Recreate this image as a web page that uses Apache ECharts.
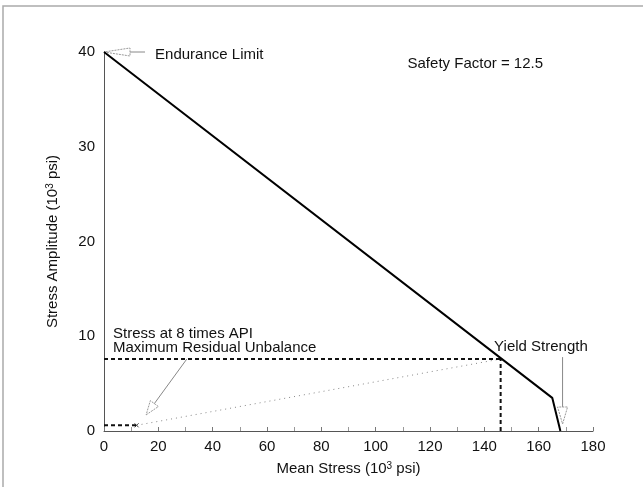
<!DOCTYPE html>
<html>
<head>
<meta charset="utf-8">
<script src="https://cdn.jsdelivr.net/npm/echarts@6/dist/echarts.min.js"></script>
<style>
  html, body { margin: 0; padding: 0; background: #fff; }
  #chart { width: 643px; height: 487px; }
</style>
</head>
<body>
<div id="chart"></div>
<script>
// Goodman diagram: allowable stress envelope (10^3 psi)
const envelope = [[0, 40], [165, 3.5], [168, 0]];
// Yield-strength operating point and its guide lines
const yieldPoint = [146, 7.6];
const yieldGuideH = [[0, 7.6], [146, 7.6]];
const yieldGuideV = [[146, 0], [146, 7.6]];
// Stress at 8x API maximum residual unbalance
const residualPoint = [12, 0.6];
const residualGuide = [[0, 0.6], [12, 0.6]];
const loadLine = [[12, 0.6], [146, 7.6]];

const xTicks = { min: 0, max: 180, interval: 20 };
const yTicks = { min: 0, max: 40, interval: 10 };

// Annotation texts, anchored in data units
const notes = [
  { text: 'Endurance Limit', at: [18.8, 39.7], align: 'left' },
  { text: 'Safety Factor = 12.5', at: [161.6, 38.8], align: 'right' },
  { text: 'Stress at 8 times API', at: [3.3, 10.3], align: 'left' },
  { text: 'Maximum Residual Unbalance', at: [3.3, 8.75], align: 'left' },
  { text: 'Yield Strength', at: [143.6, 8.9], align: 'left' }
];
// Pointer arrows: tip and tail in data units, head size in px
const arrows = [
  { tip: [0, 40], tail: [15.1, 40], head: 26, half: 4 },
  { tip: [15.5, 1.7], tail: [30.5, 7.6], head: 14, half: 5 },
  { tip: [168.8, 0.74], tail: [168.8, 7.8], head: 17, half: 5 }
];

const FONT = '"Liberation Sans", Arial, Helvetica, sans-serif';
const chart = echarts.init(document.getElementById('chart'));

chart.setOption({
  backgroundColor: '#fff',
  animation: false,
  grid: { left: 104, right: 50, top: 52, bottom: 56 },
  xAxis: {
    type: 'value', min: xTicks.min, max: xTicks.max, interval: xTicks.interval,
    name: 'Mean Stress (10{s|3} psi)', nameLocation: 'middle', nameGap: 30,
    nameTextStyle: { fontFamily: FONT, fontSize: 15, color: '#111',
      rich: { s: { fontFamily: FONT, fontSize: 10, color: '#111', verticalAlign: 'top', padding: [0, 0, 6, 0] } } },
    axisLine: { lineStyle: { color: '#555', width: 1 } },
    axisTick: { inside: true, length: 4, lineStyle: { color: '#777' } },
    minorTick: { show: true, splitNumber: 2, length: 4, lineStyle: { color: '#999' } },
    splitLine: { show: false },
    axisLabel: { fontFamily: FONT, fontSize: 15, color: '#111', margin: 8 }
  },
  yAxis: {
    type: 'value', min: yTicks.min, max: yTicks.max, interval: yTicks.interval,
    name: 'Stress Amplitude (10{s|3} psi)', nameLocation: 'middle', nameGap: 43,
    nameTextStyle: { fontFamily: FONT, fontSize: 15, color: '#111',
      rich: { s: { fontFamily: FONT, fontSize: 10, color: '#111', verticalAlign: 'top', padding: [0, 0, 6, 0] } } },
    axisLine: { show: true, lineStyle: { color: '#555', width: 1 } },
    axisTick: { show: false },
    splitLine: { show: false },
    axisLabel: { fontFamily: FONT, fontSize: 15, color: '#111', margin: 9 }
  },
  series: [
    { type: 'line', data: loadLine, symbol: 'none',
      lineStyle: { color: '#888', width: 1, type: [1, 4] } },
    { type: 'line', data: yieldGuideH, symbol: 'none',
      lineStyle: { color: '#111', width: 2, type: [4, 3] } },
    { type: 'line', data: yieldGuideV, symbol: 'none',
      lineStyle: { color: '#111', width: 2, type: [4, 3] } },
    { type: 'line', data: residualGuide, symbol: 'none',
      lineStyle: { color: '#111', width: 2, type: [4, 3] } },
    { type: 'line', data: envelope, symbol: 'none',
      lineStyle: { color: '#000', width: 2 } },
    { type: 'scatter', data: [residualPoint], symbol: 'emptyCircle', symbolSize: 8,
      itemStyle: { color: '#fff', borderColor: '#111', borderWidth: 1.5 } },
    { type: 'scatter', data: [residualPoint], symbol: 'path://M0,0L10,10M10,0L0,10', symbolSize: 4,
      itemStyle: { color: 'none', borderColor: '#111', borderWidth: 1 } }
  ]
});

// Overlay: frame, annotation texts and open-head pointer arrows
function overlay() {
  const px = p => chart.convertToPixel({ gridIndex: 0 }, p);
  const els = [
    { type: 'polyline', silent: true, shape: { points: [[3, 487], [3, 6], [643, 6]] },
      style: { stroke: '#aaa', lineWidth: 1.5, fill: null } }
  ];
  notes.forEach(n => {
    const p = px(n.at);
    els.push({ type: 'text', silent: true, x: p[0], y: p[1],
      style: { text: n.text, fontFamily: FONT, fontSize: 15, fill: '#111',
        align: n.align, verticalAlign: 'middle' } });
  });
  arrows.forEach(a => {
    const t = px(a.tip), s = px(a.tail);
    const dx = s[0] - t[0], dy = s[1] - t[1];
    const len = Math.hypot(dx, dy);
    const ux = dx / len, uy = dy / len;
    const bx = t[0] + ux * a.head, by = t[1] + uy * a.head;
    const nx = -uy * a.half, ny = ux * a.half;
    els.push({ type: 'line', silent: true, shape: { x1: bx, y1: by, x2: s[0], y2: s[1] },
      style: { stroke: '#888', lineWidth: 1 } });
    els.push({ type: 'polygon', silent: true,
      shape: { points: [[t[0], t[1]], [bx + nx, by + ny], [bx - nx, by - ny]] },
      style: { stroke: '#999', lineWidth: 1, fill: null, lineDash: [2, 1] } });
  });
  chart.setOption({ graphic: els });
}
overlay();
</script>
</body>
</html>
